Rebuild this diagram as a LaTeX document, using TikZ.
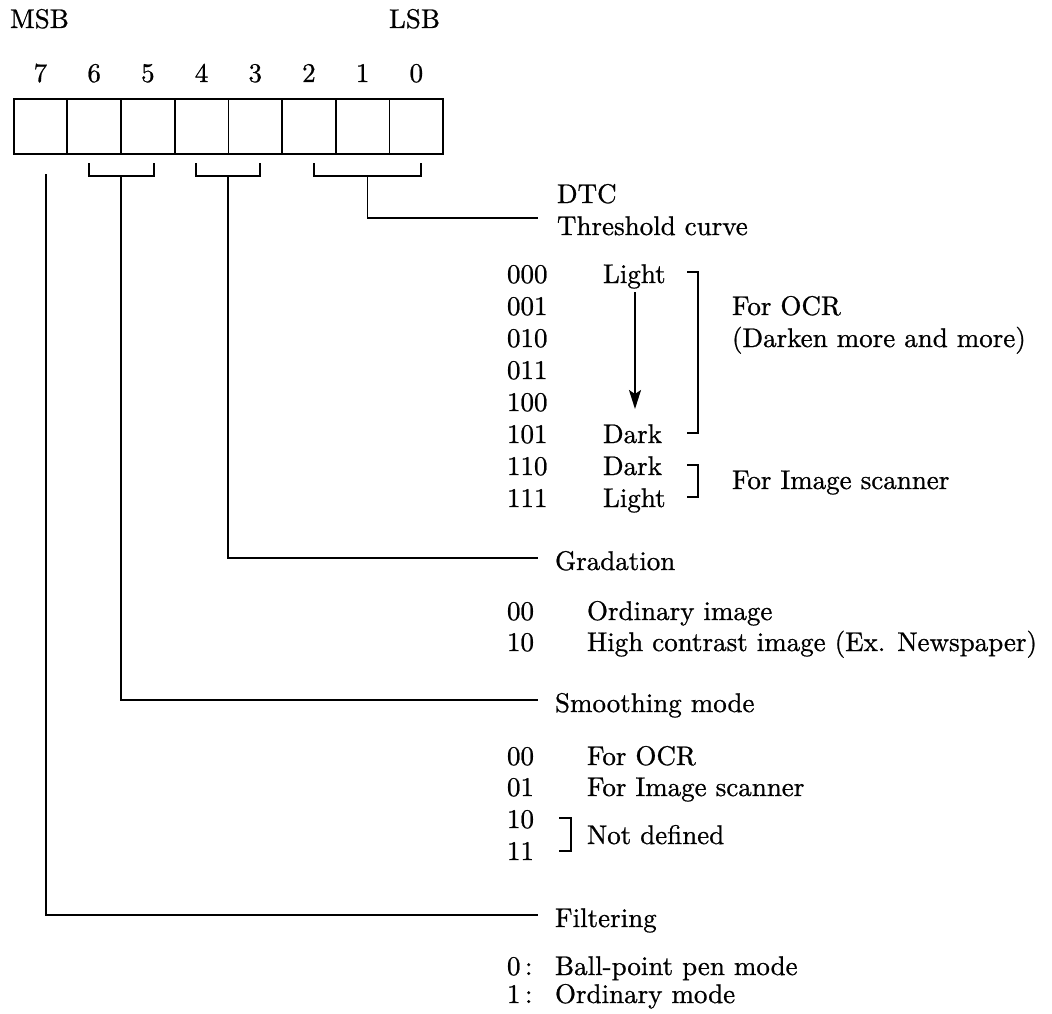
\documentclass[tikz,border=0pt]{standalone}
\usepackage{fontspec}
\setmainfont{lmroman10-regular.otf}[FakeBold=0.8]
\usetikzlibrary{arrows.meta}
\begin{document}
\begin{tikzpicture}[x=1pt,y=-1pt,
  txt/.style={anchor=base west, inner sep=0pt, outer sep=0pt, font=\fontsize{27}{31}\selectfont},
  bitnum/.style={anchor=base, inner sep=0pt, outer sep=0pt, font=\fontsize{27}{31}\selectfont},
  cell/.style={minimum width=53.7pt, minimum height=55pt, inner sep=0pt, outer sep=0pt, anchor=north west},
  wire/.style={line width=1.8pt},
  arr/.style={line width=1.8pt, -{Stealth[length=19pt,width=12pt,inset=4pt]}}]
\useasboundingbox (0,0) rectangle (1052,1014);

% register
\node[txt] (msb) at (10,28) {MSB};
\node[txt] (lsb) at (389,28) {LSB};
\foreach \b [count=\i from 0] in {7,6,5,4,3,2,1,0} {
  \node[cell] (cell\b) at ({13.6+53.7*\i},99) {};
  \node[bitnum] (n\b) at ({40.45+53.7*\i},82) {\b};
}
\draw[wire] (cell7.north west) rectangle (cell0.south east);
\foreach \b in {7,6,5,4,3,2,1}
  \draw[wire] (cell\b.north east) -- (cell\b.south east);

% brackets under the register
\draw[wire] (88.6,163) |- (153.6,176) -- (153.6,163);
\draw[wire] (196,163) |- (260,176) -- (260,163);
\draw[wire] (314,163) |- (421,176) -- (421,163);
\coordinate (br65) at (121,176);
\coordinate (br43) at (228,176);
\coordinate (br20) at (367.5,176);
\coordinate (br7) at (46,174);

\coordinate (e20) at (538,218);
\coordinate (e43) at (538,558);
\coordinate (e65) at (538,700);
\coordinate (e7) at (538,915);
\draw[wire] (br20) |- (e20);
\draw[wire] (br43) |- (e43);
\draw[wire] (br65) |- (e65);
\draw[wire] (br7) |- (e7);

% DTC
\node[txt] (dtc) at (557,203) {DTC};
\node[txt] (thr) at (557,235) {Threshold curve};
\foreach \c [count=\i from 0] in {000,001,010,011,100,101,110,111}
  \node[txt] (code\c) at (507,{283+32*\i}) {\c};
\node[txt] (lightA) at (603,283) {Light};
\node[txt] (darkA) at (603,443) {Dark};
\node[txt] (darkB) at (603,475) {Dark};
\node[txt] (lightB) at (603,507) {Light};
\coordinate (arrS) at (635,292);
\coordinate (arrE) at (635,409);
\draw[arr] (arrS) -- (arrE);
\draw[wire] (687,272) -| (698,433) -- (687,433);
\node[txt] (ocr) at (732,315) {For OCR};
\node[txt] (darken) at (732,347) {(Darken more and more)};
\draw[wire] (687,465) -| (698,497) -- (687,497);
\node[txt] (imgsc) at (732,489) {For Image scanner};

% Gradation
\node[txt] (grad) at (555,570) {Gradation};
\node[txt] (g00) at (507,620) {00};
\node[txt] (g00t) at (587,620) {Ordinary image};
\node[txt] (g10) at (507,651) {10};
\node[txt] (g10t) at (587,651) {High contrast image (Ex. Newspaper)};

% Smoothing
\node[txt] (smooth) at (555,712) {Smoothing mode};
\node[txt] (s00) at (507,765) {00};
\node[txt] (s00t) at (587,765) {For OCR};
\node[txt] (s01) at (507,796) {01};
\node[txt] (s01t) at (587,796) {For Image scanner};
\node[txt] (s10) at (507,828) {10};
\node[txt] (s11) at (507,860) {11};
\draw[wire] (559,818) -| (571,851) -- (559,851);
\node[txt] (notdef) at (587,844) {Not defined};

% Filtering
\node[txt] (filt) at (555,927) {Filtering};
\node[txt] (f0) at (507,975) {0\,:};
\node[txt] (f0t) at (555,975) {Ball-point pen mode};
\node[txt] (f1) at (507,1003) {1\,:};
\node[txt] (f1t) at (555,1003) {Ordinary mode};
\end{tikzpicture}
\end{document}
